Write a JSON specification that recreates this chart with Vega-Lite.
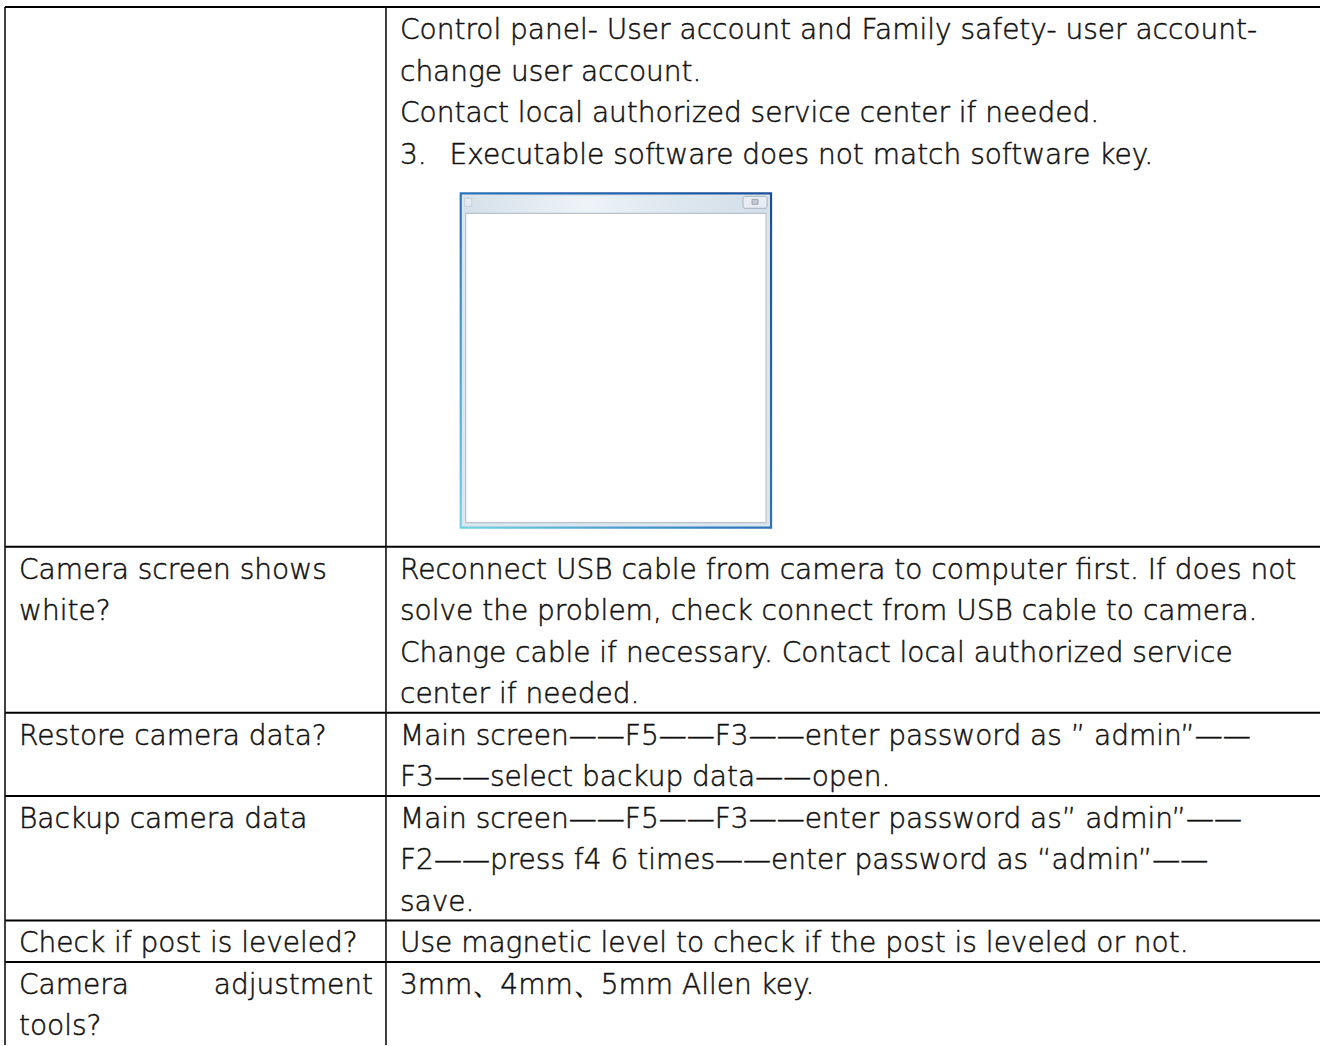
{
  "$schema": "https://vega.github.io/schema/vega-lite/v6.json",
  "width": 1316,
  "height": 1038,
  "autosize": "none",
  "padding": {"left": 5, "top": 7, "right": 0, "bottom": 0},
  "background": "white",
  "config": {"view": {"stroke": null}},
  "datasets": {
    "columns": [
      {"col": "A", "start": 0, "end": 28.95},
      {"col": "B", "start": 28.95, "end": 100}
    ],
    "rows": [
      {"row": 1, "firstLine": 0},
      {"row": 2, "firstLine": 13},
      {"row": 3, "firstLine": 17},
      {"row": 4, "firstLine": 19},
      {"row": 5, "firstLine": 22},
      {"row": 6, "firstLine": 23}
    ],
    "figure": [
      {"name": "blank window screenshot", "x0": 34.63, "x1": 58.21, "y0": 4.487, "y1": 12.54}
    ],
    "lines": [
      {"col": "B", "line": 0, "side": "left", "text": "Control panel- User account and Family safety- user account-"},
      {"col": "B", "line": 1, "side": "left", "text": "change user account."},
      {"col": "B", "line": 2, "side": "left", "text": "Contact local authorized service center if needed."},
      {"col": "B", "line": 3, "side": "left", "text": "3.\u2002\u00a0Executable software does not match software key."},
      {"col": "A", "line": 13, "side": "left", "text": "Camera screen shows"},
      {"col": "A", "line": 14, "side": "left", "text": "white?"},
      {"col": "B", "line": 13, "side": "left", "text": "Reconnect USB cable from camera to computer first. If does not"},
      {"col": "B", "line": 14, "side": "left", "text": "solve the problem, check connect from USB cable to camera."},
      {"col": "B", "line": 15, "side": "left", "text": "Change cable if necessary. Contact local authorized service"},
      {"col": "B", "line": 16, "side": "left", "text": "center if needed."},
      {"col": "A", "line": 17, "side": "left", "text": "Restore camera data?"},
      {"col": "B", "line": 17, "side": "left", "text": "Main screen——F5——F3——enter password as ” admin”——"},
      {"col": "B", "line": 18, "side": "left", "text": "F3——select backup data——open."},
      {"col": "A", "line": 19, "side": "left", "text": "Backup camera data"},
      {"col": "B", "line": 19, "side": "left", "text": "Main screen——F5——F3——enter password as” admin”——"},
      {"col": "B", "line": 20, "side": "left", "text": "F2——press f4 6 times——enter password as “admin”——"},
      {"col": "B", "line": 21, "side": "left", "text": "save."},
      {"col": "A", "line": 22, "side": "left", "text": "Check if post is leveled?"},
      {"col": "B", "line": 22, "side": "left", "text": "Use magnetic level to check if the post is leveled or not."},
      {"col": "A", "line": 23, "side": "left", "text": "Camera"},
      {"col": "A", "line": 23, "side": "right", "text": "adjustment"},
      {"col": "A", "line": 24, "side": "left", "text": "tools?"},
      {"col": "B", "line": 23, "side": "left", "text": "3mm、4mm、5mm Allen key."}
    ]
  },
  "layer": [
    {
      "data": {"name": "figure"},
      "mark": {
        "type": "rect",
        "fill": "#dce6ef",
        "strokeWidth": 2.2,
        "stroke": {
          "gradient": "linear", "x1": 1, "y1": 0, "x2": 0, "y2": 1,
          "stops": [
            {"offset": 0, "color": "#1b4f9a"},
            {"offset": 0.55, "color": "#2d78bd"},
            {"offset": 1, "color": "#74d2e2"}
          ]
        }
      },
      "encoding": {
        "x": {"field": "x0", "type": "quantitative", "scale": {"domain": [0, 100], "nice": false, "zero": false}, "axis": null},
        "x2": {"field": "x1"},
        "y": {"field": "y0", "type": "quantitative", "scale": {"domain": [0, 25], "nice": false, "zero": false, "reverse": true}, "axis": null},
        "y2": {"field": "y1"}
      }
    },
    {
      "data": {"name": "figure"},
      "mark": {
        "type": "rect",
        "xOffset": 3, "x2Offset": -3, "yOffset": 3, "y2Offset": 20,
        "fill": {
          "gradient": "linear", "x1": 0, "y1": 0, "x2": 1, "y2": 0,
          "stops": [
            {"offset": 0, "color": "#d4e0ea"},
            {"offset": 0.4, "color": "#eef3f7"},
            {"offset": 0.7, "color": "#dde7ef"},
            {"offset": 1, "color": "#d2dee9"}
          ]
        }
      },
      "encoding": {
        "x": {"field": "x0", "type": "quantitative", "scale": {"domain": [0, 100], "nice": false, "zero": false}, "axis": null},
        "x2": {"field": "x1"},
        "y": {"field": "y0", "type": "quantitative", "scale": {"domain": [0, 25], "nice": false, "zero": false, "reverse": true}, "axis": null},
        "y2": {"field": "y0"}
      }
    },
    {
      "data": {"name": "figure"},
      "mark": {
        "type": "rect",
        "xOffset": 5, "x2Offset": -5, "yOffset": 20, "y2Offset": -5,
        "fill": "white", "stroke": "#b8c2cc", "strokeWidth": 1.2
      },
      "encoding": {
        "x": {"field": "x0", "type": "quantitative", "scale": {"domain": [0, 100], "nice": false, "zero": false}, "axis": null},
        "x2": {"field": "x1"},
        "y": {"field": "y0", "type": "quantitative", "scale": {"domain": [0, 25], "nice": false, "zero": false, "reverse": true}, "axis": null},
        "y2": {"field": "y1"}
      }
    },
    {
      "data": {"name": "figure"},
      "mark": {
        "type": "rect",
        "xOffset": -28, "x2Offset": -4, "yOffset": 3, "y2Offset": 15,
        "fill": "#e7edf3", "stroke": "#a9b5c1", "strokeWidth": 1, "cornerRadius": 2
      },
      "encoding": {
        "x": {"field": "x1", "type": "quantitative", "scale": {"domain": [0, 100], "nice": false, "zero": false}, "axis": null},
        "x2": {"field": "x1"},
        "y": {"field": "y0", "type": "quantitative", "scale": {"domain": [0, 25], "nice": false, "zero": false, "reverse": true}, "axis": null},
        "y2": {"field": "y0"}
      }
    },
    {
      "data": {"name": "figure"},
      "mark": {
        "type": "rect",
        "xOffset": -19, "x2Offset": -13, "yOffset": 6, "y2Offset": 11,
        "fill": "#c3ccd6", "stroke": "#8e9aa6", "strokeWidth": 0.8
      },
      "encoding": {
        "x": {"field": "x1", "type": "quantitative", "scale": {"domain": [0, 100], "nice": false, "zero": false}, "axis": null},
        "x2": {"field": "x1"},
        "y": {"field": "y0", "type": "quantitative", "scale": {"domain": [0, 25], "nice": false, "zero": false, "reverse": true}, "axis": null},
        "y2": {"field": "y0"}
      }
    },
    {
      "data": {"name": "figure"},
      "mark": {
        "type": "rect",
        "xOffset": 4, "x2Offset": 11, "yOffset": 5, "y2Offset": 13,
        "fill": "#e4eaf0", "stroke": "#c2ccd6", "strokeWidth": 0.8
      },
      "encoding": {
        "x": {"field": "x0", "type": "quantitative", "scale": {"domain": [0, 100], "nice": false, "zero": false}, "axis": null},
        "x2": {"field": "x0"},
        "y": {"field": "y0", "type": "quantitative", "scale": {"domain": [0, 25], "nice": false, "zero": false, "reverse": true}, "axis": null},
        "y2": {"field": "y0"}
      }
    },
    {
      "data": {"name": "rows"},
      "mark": {"type": "rule", "color": "#000000", "strokeWidth": 2},
      "encoding": {
        "y": {"field": "firstLine", "type": "quantitative", "scale": {"domain": [0, 25], "nice": false, "zero": false, "reverse": true}, "axis": null}
      }
    },
    {
      "data": {"name": "columns"},
      "mark": {"type": "rule", "color": "#111111", "strokeWidth": 1.6},
      "encoding": {
        "x": {"field": "start", "type": "quantitative", "scale": {"domain": [0, 100], "nice": false, "zero": false}, "axis": null}
      }
    },
    {
      "data": {"name": "lines"},
      "transform": [
        {"filter": "datum.side === 'left'"},
        {"lookup": "col", "from": {"data": {"name": "columns"}, "key": "col", "fields": ["start", "end"]}}
      ],
      "mark": {
        "type": "text", "align": "left", "baseline": "alphabetic", "dx": 14, "dy": 32,
        "font": "DejaVu Sans", "fontWeight": 200, "fontSize": 28, "color": "#111111",
        "stroke": "#111111", "strokeWidth": 0.5
      },
      "encoding": {
        "x": {"field": "start", "type": "quantitative", "scale": {"domain": [0, 100], "nice": false, "zero": false}, "axis": null},
        "y": {"field": "line", "type": "quantitative", "scale": {"domain": [0, 25], "nice": false, "zero": false, "reverse": true}, "axis": null},
        "text": {"field": "text"}
      }
    },
    {
      "data": {"name": "lines"},
      "transform": [
        {"filter": "datum.side === 'right'"},
        {"lookup": "col", "from": {"data": {"name": "columns"}, "key": "col", "fields": ["start", "end"]}}
      ],
      "mark": {
        "type": "text", "align": "right", "baseline": "alphabetic", "dx": -13, "dy": 32,
        "font": "DejaVu Sans", "fontWeight": 200, "fontSize": 28, "color": "#111111",
        "stroke": "#111111", "strokeWidth": 0.5
      },
      "encoding": {
        "x": {"field": "end", "type": "quantitative", "scale": {"domain": [0, 100], "nice": false, "zero": false}, "axis": null},
        "y": {"field": "line", "type": "quantitative", "scale": {"domain": [0, 25], "nice": false, "zero": false, "reverse": true}, "axis": null},
        "text": {"field": "text"}
      }
    }
  ]
}
